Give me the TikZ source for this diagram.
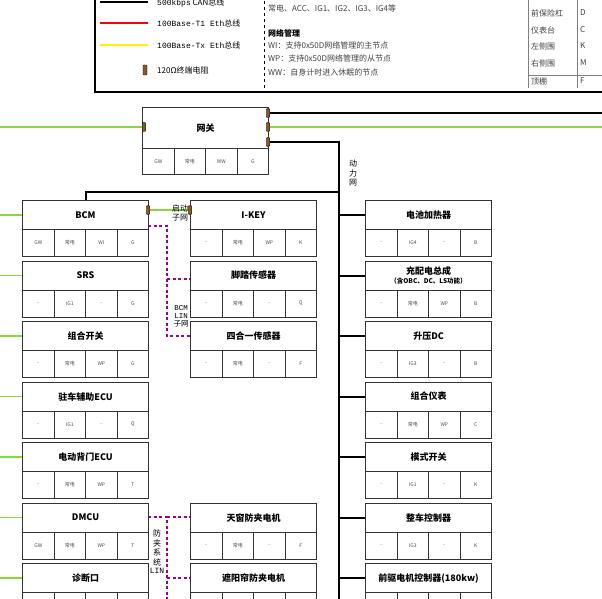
\documentclass[tikz,border=0pt]{standalone}
\usepackage{fontspec}
\setmainfont{Liberation Serif}
\newfontfamily\cjk{Noto Sans CJK SC}
\newfontfamily\mono{Liberation Mono}
\begin{document}
\begin{tikzpicture}[x=1pt,y=-1pt,
  boxline/.style={draw=black!80,line width=1.1pt},
  ttl/.style={boxline,minimum width=126pt,minimum height=29pt,anchor=north west,inner sep=1pt,font=\cjk\bfseries\fontsize{9}{10.5}\selectfont,align=center},
  cell/.style={boxline,minimum width=31.5pt,minimum height=27pt,anchor=north west,inner sep=0pt,font=\cjk\fontsize{5}{6}\selectfont,text=black!70},
  can/.style={line width=2pt,black},
  lin/.style={line width=1.8pt,violet!80!magenta,dash pattern=on 3pt off 2.5pt},
  res/.style={draw=black,fill=brown!70!black,minimum width=3.5pt,minimum height=9pt,inner sep=0pt,rounded corners=0.8pt},
  lbl/.style={font=\cjk\fontsize{8}{9.5}\selectfont,align=center,inner sep=0pt}]
\useasboundingbox (0,0) rectangle (602,599);
\definecolor{ethg}{RGB}{140,215,60}
\tikzset{eth/.style={line width=1.6pt,ethg}}
\newcommand\ecu[8]{%
  \node[ttl] (#1) at (#2,#3) {#4};
  \node[cell] (#1a) at (#2,#3+29) {#5};
  \node[cell] (#1b) at (#2+31.5,#3+29) {#6};
  \node[cell] (#1c) at (#2+63,#3+29) {#7};
  \node[cell] (#1d) at (#2+94.5,#3+29) {#8};}
% legend
\draw[line width=1.1pt] (95,-5) rectangle (612,92);
\draw[dashed,line width=0.7pt] (264,-5) -- (264,92);
\draw[black!50,line width=0.5pt] (528,-5) -- (528,88) (577,-5) -- (577,88) (528,75) -- (602,75);
\coordinate (l1a) at (100,2); \coordinate (l1b) at (148,2);
\draw[line width=2.4pt] (l1a) -- (l1b);
\coordinate (l2a) at (100,23); \coordinate (l2b) at (148,23);
\draw[line width=1.5pt,red] (l2a) -- (l2b);
\coordinate (l3a) at (100,45); \coordinate (l3b) at (148,45);
\draw[line width=1.5pt,yellow] (l3a) -- (l3b);
\node[res,minimum height=10pt,minimum width=4pt] (lr) at (145,70) {};
\begin{scope}[every node/.style={anchor=west,inner sep=0pt,font=\cjk\fontsize{8}{9}\selectfont}]
\node (t1) at (157,3) {{\mono 500kbps} CAN总线};
\node (t2) at (157,23) {{\mono 100Base-T1 Eth}总线};
\node (t3) at (157,45) {{\mono 100Base-Tx Eth}总线};
\node (t4) at (157,70) {120Ω终端电阻};
\node[text=black!75] (m1) at (268,8) {常电、ACC、IG1、IG2、IG3、IG4等};
\node[font=\cjk\bfseries\fontsize{8}{9}\selectfont] (m2) at (268,33) {网络管理};
\node[text=black!75] (m3) at (268,45) {WI：支持0x50D网络管理的主节点};
\node[text=black!75] (m4) at (268,58) {WP：支持0x50D网络管理的从节点};
\node[text=black!75] (m5) at (268,72) {WW：自身计时进入休眠的节点};
\node[text=black!75] (r1) at (531,13) {前保险杠}; \node[text=black!75] (r1b) at (580,13) {D};
\node[text=black!75] (r2) at (531,30) {仪表台}; \node[text=black!75] (r2b) at (580,30) {C};
\node[text=black!75] (r3) at (531,46) {左侧围}; \node[text=black!75] (r3b) at (580,46) {K};
\node[text=black!75] (r4) at (531,63) {右侧围}; \node[text=black!75] (r4b) at (580,63) {M};
\node[text=black!75] (r5) at (531,81) {顶棚}; \node[text=black!75] (r5b) at (580,81) {F};
\end{scope}
% gateway
\node[ttl,minimum height=41pt] (gw) at (142,107) {网关};
\node[cell,minimum height=26pt] (gwa) at (142,148) {GW};
\node[cell,minimum height=26pt] (gwb) at (173.5,148) {常电};
\node[cell,minimum height=26pt] (gwc) at (205,148) {WW};
\node[cell,minimum height=26pt] (gwd) at (236.5,148) {G};
% left column
\ecu{bcm}{22}{200}{BCM}{GW}{常电}{WI}{G}
\ecu{srs}{22}{260.5}{SRS}{-}{IG1}{-}{G}
\ecu{zhk}{22}{321}{组合开关}{-}{常电}{WP}{G}
\ecu{zcf}{22}{381.5}{驻车辅助ECU}{-}{IG1}{-}{Q}
\ecu{bm}{22}{442}{电动背门ECU}{-}{常电}{WP}{T}
\ecu{dmcu}{22}{502.5}{DMCU}{GW}{常电}{WP}{T}
\ecu{diag}{22}{563}{诊断口}{}{}{}{}
% middle column
\ecu{ikey}{190}{200}{I-KEY}{-}{常电}{WP}{K}
\ecu{jt}{190}{260.5}{脚踏传感器}{-}{常电}{-}{Q}
\ecu{sh}{190}{321}{四合一传感器}{-}{常电}{-}{F}
\ecu{tc}{190}{502.5}{天窗防夹电机}{-}{常电}{-}{F}
\ecu{zy}{190}{563}{遮阳帘防夹电机}{}{}{}{}
% right column
\ecu{bat}{365}{200}{电池加热器}{-}{IG4}{-}{B}
\ecu{cp}{365}{260.5}{充配电总成\\[-1pt]{\bfseries\fontsize{6.5}{8}\selectfont（含OBC、DC、LS功能）}}{-}{常电}{WP}{B}
\ecu{dc}{365}{321}{升压DC}{-}{IG3}{-}{B}
\ecu{yb}{365}{381.5}{组合仪表}{-}{常电}{WP}{C}
\ecu{ms}{365}{442}{模式开关}{-}{IG1}{-}{K}
\ecu{vcu}{365}{502.5}{整车控制器}{-}{IG3}{-}{K}
\ecu{mcu}{365}{563}{前驱电机控制器(180kw)}{}{}{}{}
% ethernet green
\coordinate (e0) at (0,127); \coordinate (e1) at (602,127);
\draw[eth] (e0) -- (gw.west|-e0);
\draw[eth] (gw.east|-e0) -- (e1);
\foreach \n in {bcm,srs,zhk,zcf,bm,dmcu,diag}{\coordinate (g\n) at (0,0|-\n.west); \draw[eth] (g\n) -- (\n.west);}
\coordinate (ks) at (148,210); \coordinate (ke) at (190,210);
\draw[eth] (ks) -- (ke);
% CAN black
\coordinate (c1) at (602,113);
\draw[can] (gw.east|-c1) -- (c1);
\coordinate (gwr) at (268,142); \coordinate (bus) at (339,142); \coordinate (busend) at (339,602);
\draw[can] (gwr) -- (bus) -- (busend);
\coordinate (b1) at (339,192); \coordinate (b2) at (86,192);
\draw[can] (b1) -- (b2) -- (b2|-bcm.north);
\foreach \n in {bat,cp,dc,yb,ms,vcu,mcu}{\draw[can] (bus|-\n.west) -- (\n.west);}
% resistors
\node[res] (rg1) at (144,127) {};
\node[res] (rg2) at (268,113) {};
\node[res] (rg3) at (268,127) {};
\node[res] (rg4) at (268,142) {};
\node[res] (rb) at (148,210) {};
\node[res] (rk) at (190,210) {};
% LIN
\coordinate (p0) at (148,226); \coordinate (p1) at (167,226); \coordinate (p2) at (167,336);
\draw[lin] (p0) -- (p1) -- (p2) -- (sh.west|-p2);
\coordinate (p3) at (167,279);
\draw[lin] (p3) -- (jt.west|-p3);
\coordinate (q0) at (148,517); \coordinate (q1) at (167,517); \coordinate (q2) at (167,602);
\draw[lin] (q0) -- (q1) -- (q2);
\draw[lin] (q1) -- (tc.west|-q1);
\coordinate (q3) at (167,578);
\draw[lin] (q3) -- (zy.west|-q3);
% labels
\node[lbl] (la1) at (180,213) {启动\\子网};
\node[lbl,font=\mono\fontsize{7.5}{8.5}\selectfont] (la2) at (181,316) {BCM\\LIN\\[-1pt]{\cjk 子网}};
\node[lbl,anchor=north] (la3) at (157,530) {防\\夹\\系\\统\\[-1pt]{\mono LIN}};
\node[lbl,anchor=north] (la4) at (353,160) {动\\力\\网};
\end{tikzpicture}
\end{document}
